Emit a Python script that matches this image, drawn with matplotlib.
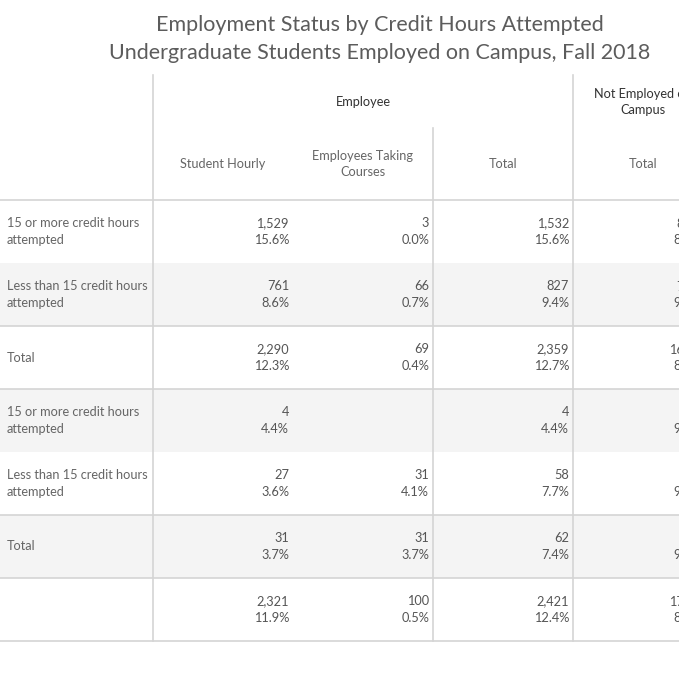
import matplotlib.pyplot as plt
from matplotlib.patches import Rectangle

# Table content
title_lines = ["Employment Status by Credit Hours Attempted",
               "Undergraduate Students Employed on Campus, Fall 2018"]
row_labels = ["15 or more credit hours\nattempted", "Less than 15 credit hours\nattempted", "Total",
              "15 or more credit hours\nattempted", "Less than 15 credit hours\nattempted", "Total", ""]
col_groups = ["Employee", "Not Employed on\nCampus"]
col_labels = ["Student Hourly", "Employees Taking\nCourses", "Total", "Total"]

student_hourly_n = [1529, 761, 2290, 4, 27, 31, 2321]
student_hourly_pct = [15.6, 8.6, 12.3, 4.4, 3.6, 3.7, 11.9]
emp_courses_n = [3, 66, 69, None, 31, 31, 100]
emp_courses_pct = [0.0, 0.7, 0.4, None, 4.1, 3.7, 0.5]
emp_total_n = [1532, 827, 2359, 4, 58, 62, 2421]
emp_total_pct = [15.6, 9.4, 12.7, 4.4, 7.7, 7.4, 12.4]
not_emp_n = [8289, 7971, 16216, 87, 695, 776, 17103]
not_emp_pct = [84.4, 90.6, 87.3, 95.6, 92.3, 92.6, 87.6]

columns = [(student_hourly_n, student_hourly_pct), (emp_courses_n, emp_courses_pct),
           (emp_total_n, emp_total_pct), (not_emp_n, not_emp_pct)]
shaded_rows = [1, 3, 5]

# Layout (pixel units)
W, H = 688, 688
visible_w = 679
label_x = 7
col_x0 = 153
col_w = 140
body_top = 200
row_h = 63
line_c = "#d4d4d4"
text_c = "#666666"
num_c = "#555555"
font = "Lato"
fs = 9.2

fig = plt.figure(figsize=(W / 100, H / 100), dpi=100)
ax = fig.add_axes([0, 0, visible_w / W, 1])
ax.set_xlim(0, visible_w)
ax.set_ylim(H, 0)
ax.axis("off")

# Title
for i, line in enumerate(title_lines):
    ax.text(380, 25 + i * 28, line, ha="center", va="center", fontsize=15.5,
            color="#5c5c5c", family=font)

n_rows = len(row_labels)
# Row shading
for r in shaded_rows:
    ax.add_patch(Rectangle((0, body_top + r * row_h), visible_w, row_h,
                           facecolor="#f4f4f4", edgecolor="none", zorder=0))

# Horizontal lines
for y in [body_top, body_top + 2 * row_h, body_top + 3 * row_h, body_top + 5 * row_h,
          body_top + 6 * row_h, body_top + 7 * row_h]:
    ax.plot([0, visible_w], [y, y], color=line_c, lw=1.2, zorder=2)

# Vertical lines
bottom = body_top + n_rows * row_h
ax.plot([col_x0, col_x0], [75, bottom], color=line_c, lw=1.2, zorder=2)
ax.plot([col_x0 + 3 * col_w] * 2, [75, bottom], color=line_c, lw=1.2, zorder=2)
ax.plot([col_x0 + 2 * col_w] * 2, [128, bottom], color=line_c, lw=1.2, zorder=2)

# Headers
ax.text(col_x0 + 1.5 * col_w, 102, col_groups[0], ha="center", va="center",
        fontsize=fs, color="#333333", family=font, clip_on=True)
ax.text(col_x0 + 3.5 * col_w, 102, col_groups[1], ha="center", va="center",
        fontsize=fs, color="#333333", family=font, linespacing=1.3, clip_on=True)
for j, lab in enumerate(col_labels):
    ax.text(col_x0 + (j + 0.5) * col_w, 164, lab, ha="center", va="center",
            fontsize=fs, color=text_c, family=font, linespacing=1.3, clip_on=True)

# Body
for r, lab in enumerate(row_labels):
    yc = body_top + (r + 0.5) * row_h
    ax.text(label_x, yc, lab, ha="left", va="center", fontsize=fs,
            color=text_c, family=font, linespacing=1.55)
    for j, (ns, ps) in enumerate(columns):
        if ns[r] is None:
            continue
        xr = col_x0 + (j + 1) * col_w - 4
        ax.text(xr, yc - 8.5, f"{ns[r]:,}", ha="right", va="center", fontsize=fs,
                color=num_c, family=font, clip_on=True)
        ax.text(xr, yc + 8.5, f"{ps[r]:.1f}%", ha="right", va="center", fontsize=fs,
                color=num_c, family=font, clip_on=True)

fig.savefig("out.png", dpi=100)
